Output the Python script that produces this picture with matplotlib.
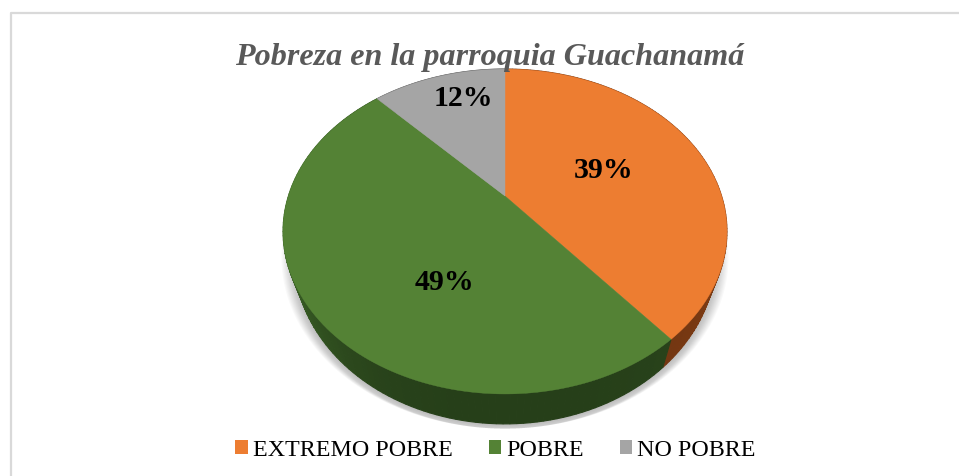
import numpy as np
import matplotlib
matplotlib.use("Agg")
import matplotlib.pyplot as plt
from matplotlib.patches import Patch

titulo = "Pobreza en la parroquia Guachanamá"
categorias = ["EXTREMO POBRE", "POBRE", "NO POBRE"]
valores = [39, 49, 12]
colores = ["#ED7D31", "#548235", "#A5A5A5"]
colores_pared = ["#6E3411", "#263F19", "#555555"]
etiquetas = ["39%", "49%", "12%"]

plt.rcParams["font.family"] = ["Liberation Serif", "DejaVu Serif"]

# geometria del pastel 3D con perspectiva (en pixeles)
cx, cy = 505, 197
ax_r, ay_r = 216.6, 154.7
k = 0.2185
grosor = 23.4


def proyectar(ang, caida=0.0):
    # ang en radianes, sentido horario desde arriba
    x = np.sin(ang)
    y = np.cos(ang)
    d = 1 + k * y
    encoge = 1 - 0.05 * caida / grosor  # la base se ve un poco mas chica
    return cx + ax_r * x / d * encoge, cy - ay_r * y / d + caida / d


fig = plt.figure(figsize=(9.59, 4.77), dpi=100)
ax = fig.add_axes([0, 0, 1, 1])
ax.set_xlim(0, 959)
ax.set_ylim(477, 0)
ax.axis("off")

# marco del grafico
ax.plot([11, 11, 970], [490, 14, 14], color="#D9D9D9", lw=1.6, zorder=1)

# sombra difusa
t = np.linspace(0, 2 * np.pi, 361)
sx, sy = proyectar(t, grosor)
mx, my = sx.mean(), sy.mean()
for esc in np.linspace(1.06, 1.0, 12):
    ax.fill(mx + (sx - mx) * esc, my + 1 + (sy - my) * min(esc, 1.02),
            color="#000000", alpha=0.022, lw=0, zorder=2)

# porciones
fr = np.cumsum([0] + valores) / sum(valores) * 2 * np.pi
pared = []
for i in range(len(valores)):
    ang = np.linspace(fr[i], fr[i + 1], 120)
    base = np.array(matplotlib.colors.to_rgb(colores_pared[i]))
    for a0, a1 in zip(ang[:-1], ang[1:]):
        am = (a0 + a1) / 2
        # luz: la pared es mas clara hacia los lados
        luz = 1.0 + 0.7 * max(0.0, -np.sin(am)) ** 3 + 0.2 * max(0.0, np.sin(am)) ** 3
        xa, ya = proyectar(np.array([a0, a1]))
        xb, yb = proyectar(np.array([a1, a0]), grosor)
        c = np.clip(base * luz, 0, 1)
        pared.append((ya.mean(), np.r_[xa, xb], np.r_[ya, yb], c))
for _, px, py, c in sorted(pared, key=lambda p: p[0]):
    ax.fill(px, py, color=c, lw=0.8, zorder=3)

for i in range(len(valores)):
    ang = np.linspace(fr[i], fr[i + 1], 200)
    x, y = proyectar(ang)
    ax.fill(np.r_[cx, x], np.r_[cy, y], color=colores[i], lw=0.3, zorder=4)

# etiquetas
pos_etiquetas = [(603.5, 171), (444, 283), (463, 99)]
for txt, (ex, ey) in zip(etiquetas, pos_etiquetas):
    ax.text(ex, ey, txt, fontsize=21.5, fontweight="bold", color="black",
            ha="center", va="center", zorder=6)

ax.text(489.5, 58, titulo, fontsize=23.1, fontweight="bold", style="italic",
        color="#595959", ha="center", va="center", zorder=7)

# leyenda
handles = [Patch(facecolor=c, edgecolor="none") for c in colores]
fig.legend(handles, categorias, loc="center", bbox_to_anchor=(495.5 / 959, 1 - 451 / 477),
           ncol=3, frameon=False, fontsize=17.3, handlelength=0.52, handleheight=0.52,
           handletextpad=0.21, columnspacing=1.5, borderpad=0, labelcolor="black")

fig.savefig("out.png", dpi=100)
